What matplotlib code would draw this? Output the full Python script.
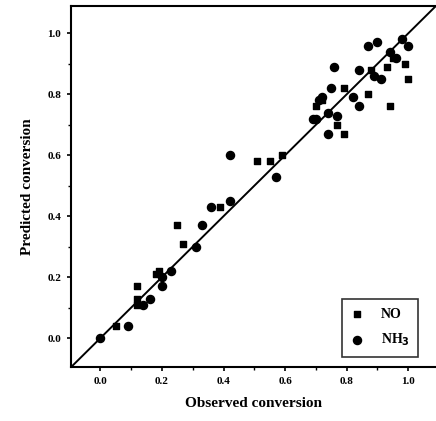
import matplotlib
matplotlib.use('Agg')
import matplotlib.pyplot as plt
from matplotlib.ticker import MultipleLocator

# Data
no_obs = [0.05, 0.12, 0.12, 0.12, 0.18, 0.19, 0.25, 0.27, 0.39, 0.51, 0.55, 0.59,
          0.70, 0.72, 0.77, 0.79, 0.79, 0.87, 0.88, 0.93, 0.94, 0.95, 0.99, 1.00]
no_pred = [0.04, 0.17, 0.13, 0.11, 0.21, 0.22, 0.37, 0.31, 0.43, 0.58, 0.58, 0.60,
           0.76, 0.78, 0.70, 0.82, 0.67, 0.80, 0.88, 0.89, 0.76, 0.92, 0.90, 0.85]

nh3_obs = [0.00, 0.09, 0.14, 0.16, 0.20, 0.20, 0.23, 0.31, 0.33, 0.36, 0.42, 0.42,
           0.57, 0.69, 0.70, 0.71, 0.72, 0.74, 0.74, 0.75, 0.76, 0.77, 0.82, 0.84,
           0.84, 0.87, 0.89, 0.90, 0.91, 0.94, 0.96, 0.98, 1.00]
nh3_pred = [0.00, 0.04, 0.11, 0.13, 0.17, 0.20, 0.22, 0.30, 0.37, 0.43, 0.45, 0.60,
            0.53, 0.72, 0.72, 0.78, 0.79, 0.74, 0.67, 0.82, 0.89, 0.73, 0.79, 0.76,
            0.88, 0.96, 0.86, 0.97, 0.85, 0.94, 0.92, 0.98, 0.96]

ticks = [0.0, 0.2, 0.4, 0.6, 0.8, 1.0]
lims = (-0.095, 1.09)

plt.rcParams['font.family'] = 'Liberation Serif'
plt.rcParams['font.weight'] = 'bold'

fig = plt.figure(figsize=(4.36, 4.21), dpi=100)
ax = fig.add_axes([0.163, 0.128, 0.837, 0.858])

# Parity line
ax.plot(lims, lims, color='black', linewidth=1.4, zorder=1)

ax.scatter(no_obs, no_pred, marker='s', s=25, color='black', label='NO', zorder=3)
ax.scatter(nh3_obs, nh3_pred, marker='o', s=34, color='black', label='NH$_\\mathbf{3}$', zorder=3)

ax.set_xlim(lims)
ax.set_ylim(lims)
ax.set_xticks(ticks)
ax.set_yticks(ticks)
ax.set_xticklabels([f'{t:.1f}' for t in ticks])
ax.set_yticklabels([f'{t:.1f}' for t in ticks])
ax.xaxis.set_minor_locator(MultipleLocator(0.1))
ax.yaxis.set_minor_locator(MultipleLocator(0.1))
ax.tick_params(which='major', direction='out', length=3, width=1.2, labelsize=8, pad=4)
ax.tick_params(which='minor', direction='out', length=2, width=1)

for side in ['left', 'bottom', 'top']:
    ax.spines[side].set_linewidth(1.5)
ax.spines['right'].set_visible(False)

ax.set_xlabel('Observed conversion', fontsize=11, fontweight='bold', labelpad=8)
ax.set_ylabel('Predicted conversion', fontsize=11, fontweight='bold', labelpad=10)

leg = ax.legend(loc='lower right', bbox_to_anchor=(0.97, 0.01), frameon=True,
                fancybox=False, edgecolor='black', fontsize=10, handletextpad=1.2,
                borderpad=0.6, labelspacing=0.8, handlelength=1.0)
leg.get_frame().set_linewidth(1.2)

fig.savefig('out.png', dpi=100)
